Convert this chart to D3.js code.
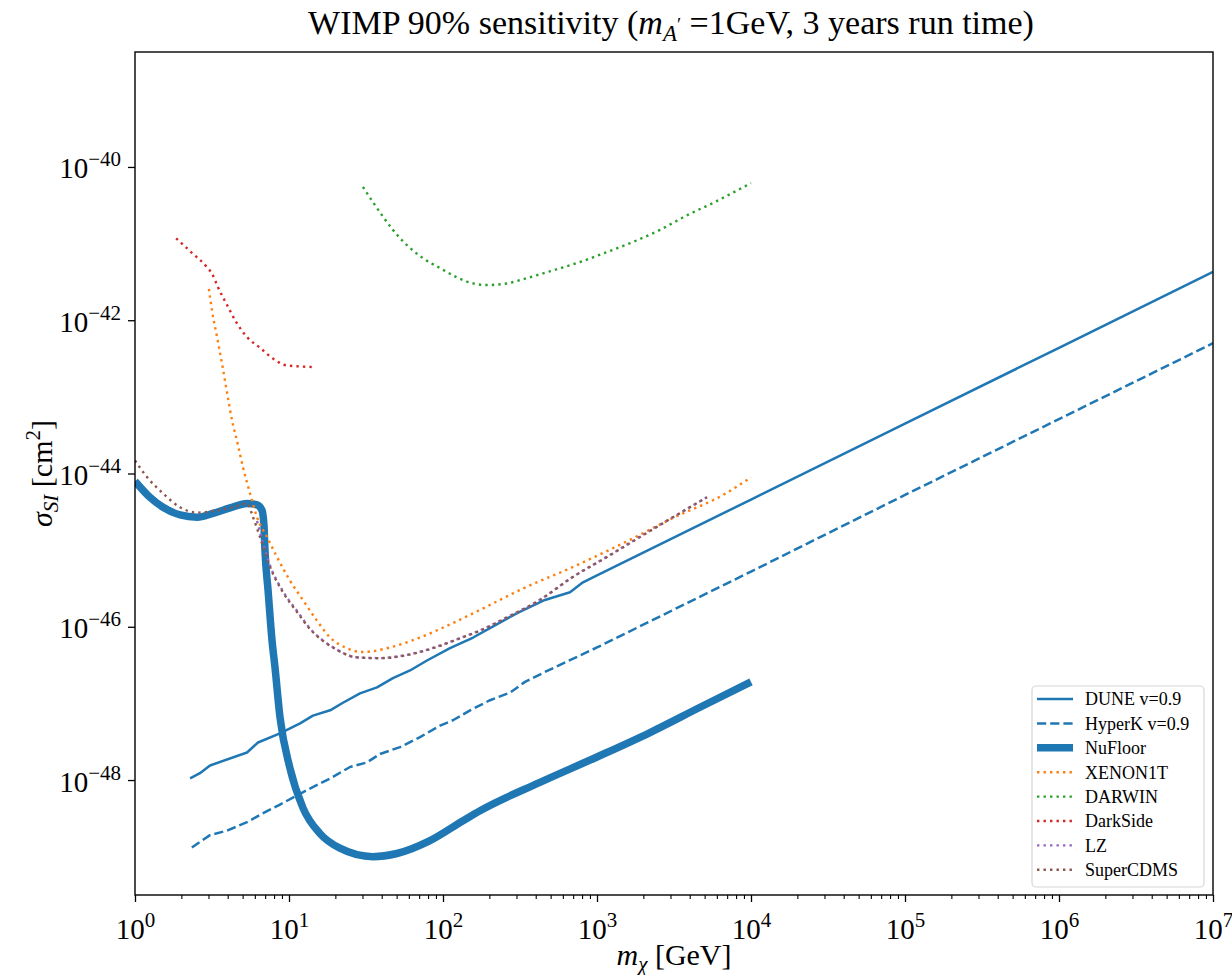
<!DOCTYPE html>
<html>
<head>
<meta charset="utf-8">
<script src="https://cdn.jsdelivr.net/npm/d3@7"></script>
<style>
body { margin: 0; background: #fff; }
text { font-family: "Liberation Serif", "DejaVu Serif", serif; fill: #000; }
</style>
</head>
<body>
<div id="chart"></div>
<script>
// ---- data (masses in GeV, cross sections in cm^2) ----
const xTicks = [1, 1e1, 1e2, 1e3, 1e4, 1e5, 1e6, 1e7];
const yTicks = [1e-48, 1e-46, 1e-44, 1e-42, 1e-40];

const duneMass  = [2.28, 2.64, 3.07, 5.34, 6.29, 8.74, 11.8, 14.3, 18.5, 22.4, 28.9, 37.3, 47.3, 61.1, 78.7, 111, 157, 303, 459, 668, 811, 1000, 1e4, 1e5, 1e6, 1e7];
const duneSigma = [1.05e-48, 1.23e-48, 1.55e-48, 2.29e-48, 3.09e-48, 4.07e-48, 5.50e-48, 6.92e-48, 8.13e-48, 1.02e-47, 1.35e-47, 1.62e-47, 2.14e-47, 2.69e-47, 3.63e-47, 5.25e-47, 7.24e-47, 1.51e-46, 2.24e-46, 2.82e-46, 3.80e-46, 4.68e-46, 4.57e-45, 4.47e-44, 4.37e-43, 4.27e-42];

const hyperkMass  = [2.34, 3.07, 3.96, 5.34, 6.68, 8.74, 10.6, 13.1, 18.5, 24.9, 32.1, 39.0, 52.6, 70.9, 95.7, 116, 150, 202, 272, 341, 459, 1000, 1e4, 1e5, 1e6, 1e7];
const hyperkSigma = [1.32e-49, 1.91e-49, 2.19e-49, 2.82e-49, 3.63e-49, 4.79e-49, 5.89e-49, 7.41e-49, 1.05e-48, 1.48e-48, 1.70e-48, 2.19e-48, 2.69e-48, 3.63e-48, 5.13e-48, 6.03e-48, 8.13e-48, 1.10e-47, 1.38e-47, 1.91e-47, 2.57e-47, 5.37e-47, 5.25e-46, 5.25e-45, 5.13e-44, 5.01e-43];

const nufloorMass  = [1, 1.25, 1.52, 1.96, 2.53, 3.21, 4.14, 5.34, 6.20, 6.68, 6.88, 6.98, 7.31, 7.76, 8.11, 8.74, 10.1, 12.3, 15.9, 21.4, 35.1, 50.2, 82.3, 135, 174, 426, 1000, 2210, 4670, 1e4];
const nufloorSigma = [7.94e-45, 4.90e-45, 3.63e-45, 2.88e-45, 2.69e-45, 3.02e-45, 3.55e-45, 4.07e-45, 3.89e-45, 3.31e-45, 2.09e-45, 1.00e-45, 3.02e-46, 6.61e-47, 2.95e-47, 6.61e-48, 1.48e-48, 4.37e-49, 2.00e-49, 1.29e-49, 1.00e-49, 1.10e-49, 1.62e-49, 2.95e-49, 3.98e-49, 9.33e-49, 2.00e-48, 4.17e-48, 8.91e-48, 1.91e-47];

const xenonMass  = [3.02, 3.16, 3.41, 3.67, 4.02, 4.26, 4.59, 5.03, 5.58, 6.20, 7.20, 8.36, 10.1, 12.3, 15.2, 18.5, 23.8, 29.8, 45.3, 70.9, 116, 174, 331, 698, 1476, 3119, 6577, 1e4];
const xenonSigma = [2.57e-42, 1.35e-42, 6.03e-43, 2.75e-43, 9.55e-44, 5.01e-44, 2.69e-44, 1.20e-44, 5.50e-45, 2.69e-45, 1.48e-45, 8.13e-46, 4.07e-46, 2.24e-46, 1.20e-46, 7.24e-47, 5.25e-47, 4.68e-47, 5.37e-47, 7.24e-47, 1.12e-46, 1.66e-46, 3.16e-46, 6.03e-46, 1.23e-45, 2.63e-45, 5.25e-45, 8.91e-45];

const darwinMass  = [30.2, 35.1, 40.8, 47.3, 58.3, 74.1, 95.7, 123, 157, 193, 260, 351, 518, 776, 1161, 1714, 2564, 3840, 5662, 1e4];
const darwinSigma = [5.50e-41, 3.47e-41, 2.24e-41, 1.51e-41, 9.55e-42, 6.46e-42, 4.79e-42, 3.63e-42, 3.02e-42, 2.88e-42, 3.02e-42, 3.55e-42, 4.47e-42, 5.75e-42, 7.76e-42, 1.05e-41, 1.51e-41, 2.34e-41, 3.39e-41, 6.17e-41];

const darksideMass  = [1.85, 2.34, 2.94, 3.16, 3.46, 3.96, 4.59, 5.34, 6.48, 7.87, 9.70, 14.8];
const darksideSigma = [1.17e-41, 7.59e-42, 4.90e-42, 4.07e-42, 2.69e-42, 1.58e-42, 9.12e-43, 6.03e-43, 4.37e-43, 3.16e-43, 2.57e-43, 2.45e-43];

const lzMass  = [6.20, 7.53, 9.14, 11.3, 13.7, 19.3, 27.6, 39.0, 58.3, 86.1, 129, 174, 260, 426, 698, 1161, 1901, 3119, 5176];
const lzSigma = [2.4e-45, 6.3e-46, 2.9e-46, 1.6e-46, 9.5e-47, 5.4e-47, 4.0e-47, 3.9e-47, 4.3e-47, 5.3e-47, 7.1e-47, 9.0e-47, 1.33e-46, 2.25e-46, 4.5e-46, 8.2e-46, 1.5e-45, 2.7e-45, 4.9e-45];

const cdmsMass  = [1, 1.20, 1.52, 1.96, 2.53, 3.41, 4.33, 5.34, 5.84, 6.48, 7.53, 9.14, 11.3, 13.7, 19.3, 27.6, 39.0, 58.3, 86.1, 129, 174, 260, 426, 698, 1161, 1901, 3119, 5176];
const cdmsSigma = [1.48e-44, 8.91e-45, 5.50e-45, 3.63e-45, 3.09e-45, 3.31e-45, 3.63e-45, 4.07e-45, 2.69e-45, 1.48e-45, 6.03e-46, 2.82e-46, 1.55e-46, 9.33e-47, 5.37e-47, 3.98e-47, 3.89e-47, 4.27e-47, 5.25e-47, 7.08e-47, 8.91e-47, 1.32e-46, 2.24e-46, 4.47e-46, 8.13e-46, 1.48e-45, 2.69e-45, 4.90e-45];

const zip = (ms, ss) => ms.map((m, i) => ({m: m, s: ss[i]}));

// series table (styles live here, not in the data arrays)
const series = [
  {name: "DUNE v=0.9",   data: zip(duneMass, duneSigma),       color: "#1f77b4", width: 2.5, dash: null,       curve: d3.curveLinear},
  {name: "HyperK v=0.9", data: zip(hyperkMass, hyperkSigma),   color: "#1f77b4", width: 2.5, dash: "9.2,4",    curve: d3.curveLinear},
  {name: "NuFloor",      data: zip(nufloorMass, nufloorSigma), color: "#1f77b4", width: 7.5, dash: null,       curve: d3.curveMonotoneX},
  {name: "XENON1T",      data: zip(xenonMass, xenonSigma),     color: "#ff7f0e", width: 2.4, dash: "2.4,4.1",  curve: d3.curveMonotoneX},
  {name: "DARWIN",       data: zip(darwinMass, darwinSigma),   color: "#2ca02c", width: 2.4, dash: "2.4,4.1",  curve: d3.curveMonotoneX},
  {name: "DarkSide",     data: zip(darksideMass, darksideSigma), color: "#d62728", width: 2.4, dash: "2.4,4.1", curve: d3.curveMonotoneX},
  {name: "LZ",           data: zip(lzMass, lzSigma),           color: "#9467bd", width: 2.4, dash: "2.4,4.1",  curve: d3.curveMonotoneX},
  {name: "SuperCDMS",    data: zip(cdmsMass, cdmsSigma),       color: "#8c564b", width: 2.4, dash: "2.4,4.1",  curve: d3.curveMonotoneX}
];

// set the dimensions and margins of the graph
const margin = {top: 52, right: 19, bottom: 80, left: 135},
  width = 1232 - margin.left - margin.right,
  height = 975 - margin.top - margin.bottom;

const svg = d3.select("#chart")
  .append("svg")
  .attr("width", width + margin.left + margin.right)
  .attr("height", height + margin.top + margin.bottom)
  .append("g")
  .attr("transform", `translate(${margin.left},${margin.top})`);

const x = d3.scaleLog().domain([1, 1e7]).range([0, width]);
const y = d3.scaleLog().domain([Math.pow(10, -49.5), Math.pow(10, -38.5)]).range([height, 0]);

svg.append("clipPath").attr("id", "clip")
  .append("rect").attr("width", width).attr("height", height);

// lines
const plot = svg.append("g").attr("clip-path", "url(#clip)");
series.forEach(s => {
  plot.append("path")
    .datum(s.data)
    .attr("fill", "none")
    .attr("stroke", s.color)
    .attr("stroke-width", s.width)
    .attr("stroke-dasharray", s.dash)
    .attr("stroke-linejoin", "round")
    .attr("d", d3.line().curve(s.curve)
      .x(d => x(d.m))
      .y(d => y(d.s)));
});

// minor x ticks
const xMinor = [];
for (let e = 0; e < 7; e++) for (let k = 2; k < 10; k++) xMinor.push(k * Math.pow(10, e));

svg.append("g")
  .attr("transform", `translate(0,${height})`)
  .call(d3.axisBottom(x).tickValues(xMinor).tickSize(4).tickFormat(""))
  .call(g => g.select(".domain").remove())
  .call(g => g.selectAll("text").remove())
  .call(g => g.selectAll("line").attr("stroke-width", 1.1));

// 10^n tick labels
function powLabel(sel, anchor, lx, ly) {
  sel.selectAll("text").remove();
  sel.append("text")
    .attr("text-anchor", anchor)
    .attr("x", lx).attr("y", ly)
    .attr("font-size", 29)
    .each(function(d) {
      const t = d3.select(this);
      const e = Math.round(Math.log10(d));
      t.append("tspan").text("10");
      t.append("tspan").attr("font-size", 21).attr("dy", -12)
        .text(e < 0 ? "\u2212" + (-e) : String(e));
    });
}

const xAxis = svg.append("g")
  .attr("transform", `translate(0,${height})`)
  .call(d3.axisBottom(x).tickValues(xTicks).tickSize(7).tickFormat(""))
  .call(g => g.select(".domain").remove())
  .call(g => g.selectAll("line").attr("stroke-width", 1.3));
xAxis.selectAll(".tick").call(powLabel, "middle", 0, 44);

const yAxis = svg.append("g")
  .call(d3.axisLeft(y).tickValues(yTicks).tickSize(7).tickFormat(""))
  .call(g => g.select(".domain").remove())
  .call(g => g.selectAll("line").attr("stroke-width", 1.3));
yAxis.selectAll(".tick").call(powLabel, "end", -14, 11);

// frame
svg.append("rect")
  .attr("width", width).attr("height", height)
  .attr("fill", "none").attr("stroke", "#000").attr("stroke-width", 1.4);

// title
const title = svg.append("text")
  .attr("x", width / 2 - 3).attr("y", -18)
  .attr("text-anchor", "middle")
  .attr("font-size", 34);
title.append("tspan").text("WIMP 90% sensitivity (");
title.append("tspan").attr("font-style", "italic").text("m");
title.append("tspan").attr("font-style", "italic").attr("font-size", 23).attr("dy", 7).text("A");
title.append("tspan").attr("font-size", 19).attr("dy", -10).text("\u2032");
title.append("tspan").attr("dy", 3).text(" =1GeV, 3 years run time)");

// X axis label
const xl = svg.append("text")
  .attr("x", width / 2).attr("y", height + 70)
  .attr("text-anchor", "middle")
  .attr("font-size", 30);
xl.append("tspan").attr("font-style", "italic").text("m");
xl.append("tspan").attr("font-style", "italic").attr("font-size", 21).attr("dy", 6).text("\u03c7");
xl.append("tspan").attr("dy", -6).text(" [GeV]");

// Y axis label
const yl = svg.append("text")
  .attr("transform", "rotate(-90)")
  .attr("x", -height / 2).attr("y", -margin.left + 52)
  .attr("text-anchor", "middle")
  .attr("font-size", 30);
yl.append("tspan").attr("font-style", "italic").text("\u03c3");
yl.append("tspan").attr("font-style", "italic").attr("font-size", 21).attr("dy", 6).text("SI");
yl.append("tspan").attr("dy", -6).text(" [cm");
yl.append("tspan").attr("font-size", 21).attr("dy", -12).text("2");
yl.append("tspan").attr("dy", 12).text("]");

// legend
const lgX = 1032 - margin.left, lgY = 686 - margin.top;
svg.append("rect")
  .attr("x", lgX).attr("y", lgY)
  .attr("width", 172).attr("height", 201)
  .attr("rx", 4)
  .attr("fill", "#fff").attr("fill-opacity", 0.8)
  .attr("stroke", "#d6d6d6").attr("stroke-width", 1.2);

const legend = svg.append("g")
  .selectAll("g")
  .data(series)
  .join("g")
  .attr("transform", (d, i) => `translate(${lgX},${lgY + 13 + i * 24.4})`);

legend.append("line")
  .attr("x1", 5).attr("x2", 41)
  .attr("stroke", d => d.color)
  .attr("stroke-width", d => d.width)
  .attr("stroke-dasharray", d => d.dash);

legend.append("text")
  .attr("x", 53)
  .attr("dy", "0.35em")
  .attr("font-size", 18)
  .text(d => d.name);
</script>
</body>
</html>
